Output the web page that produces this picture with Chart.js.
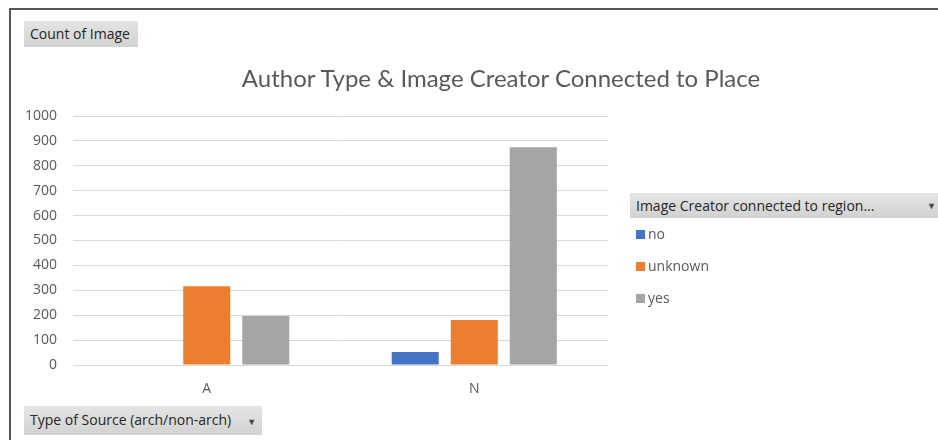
<!DOCTYPE html>
<html lang="en">
<head>
    <meta charset="UTF-8">
    <title>Author Type &amp; Image Creator Connected to Place</title>
    <script src="https://cdn.jsdelivr.net/npm/chart.js"></script>
    <style>
        html, body {
            margin: 0;
            padding: 0;
            width: 938px;
            height: 440px;
            overflow: hidden;
            background: #fff;
            font-family: "Open Sans", Arial, sans-serif;
        }
        .frame {
            position: absolute;
            left: 9px;
            top: 8px;
            width: 940px;
            height: 440px;
            border-top: 2px solid #555;
            border-left: 2px solid #555;
        }
        #chart {
            position: absolute;
            left: 0;
            top: 0;
        }
        .btn {
            position: absolute;
            background: linear-gradient(#e4e4e4, #d2d2d2);
            color: #262626;
            font-size: 14px;
            line-height: 26px;
            padding: 0 6px;
            white-space: nowrap;
        }
        .btn .arrow {
            font-size: 9px;
            color: #444;
            margin-left: 16px;
        }
        .title {
            position: absolute;
            left: 200px;
            width: 602px;
            top: 63px;
            text-align: center;
            font-family: Lato, sans-serif;
            font-size: 24px;
            color: #595959;
            white-space: nowrap;
        }
        #legend {
            position: absolute;
            left: 636px;
            top: 222px;
            font-size: 14px;
            color: #595959;
        }
        #legend div {
            height: 32px;
            line-height: 24px;
        }
        #legend span.sw {
            display: inline-block;
            width: 9px;
            height: 9px;
            margin-right: 3px;
        }
    </style>
</head>
<body>
    <div class="frame"></div>
    <canvas id="chart" width="938" height="440"></canvas>
    <div class="btn" style="left:24px; top:21px; padding-right:8px;">Count of Image</div>
    <div class="title">Author Type &amp; Image Creator Connected to Place</div>
    <div class="btn" style="left:630px; top:193px; width:296px; line-height:25px;">Image Creator connected to region...<span class="arrow" style="position:absolute; right:2px;">&#9660;</span></div>
    <div id="legend"></div>
    <div class="btn" style="left:24px; top:406px; line-height:27px;">Type of Source (arch/non-arch)<span class="arrow">&#9660;</span></div>

    <script>
        // categories and series
        const sourceTypes = ['A', 'N'];
        const seriesNames = ['no', 'unknown', 'yes'];
        const noCounts = [0, 52];
        const unknownCounts = [316, 181];
        const yesCounts = [197, 874];
        const yTicks = [0, 100, 200, 300, 400, 500, 600, 700, 800, 900, 1000];

        const colors = ['#4472C4', '#ED7D31', '#A5A5A5'];
        const seriesData = [noCounts, unknownCounts, yesCounts];

        const ctx = document.getElementById('chart').getContext('2d');
        const chart = new Chart(ctx, {
            type: 'bar',
            data: {
                labels: sourceTypes,
                datasets: seriesNames.map((name, i) => ({
                    label: name,
                    data: seriesData[i],
                    backgroundColor: colors[i],
                    categoryPercentage: 0.662,
                    barPercentage: 0.797
                }))
            },
            options: {
                responsive: false,
                animation: false,
                layout: {
                    padding: { left: 0, right: 330, top: 116, bottom: 0 }
                },
                plugins: {
                    legend: { display: false },
                    tooltip: { enabled: false }
                },
                scales: {
                    x: {
                        grid: { display: false, drawTicks: false },
                        border: { display: false },
                        ticks: {
                            color: '#595959',
                            padding: 16,
                            font: { family: 'Open Sans', size: 14 }
                        },
                        afterFit: (scale) => { scale.height = 75; }
                    },
                    y: {
                        min: 0,
                        max: 1000,
                        afterBuildTicks: (scale) => {
                            scale.ticks = yTicks.map(v => ({ value: v }));
                        },
                        grid: { color: '#d9d9d9', lineWidth: 1, drawTicks: false },
                        border: { display: false },
                        ticks: {
                            color: '#595959',
                            padding: 16,
                            font: { family: 'Open Sans', size: 14 },
                            callback: (v) => String(v)
                        },
                        afterFit: (scale) => { scale.width = 73; }
                    }
                }
            }
        });

        // legend built from the datasets
        const legend = document.getElementById('legend');
        chart.data.datasets.forEach(ds => {
            const row = document.createElement('div');
            row.innerHTML = '<span class="sw" style="background:' + ds.backgroundColor + '"></span>' + ds.label;
            legend.appendChild(row);
        });
    </script>
</body>
</html>
